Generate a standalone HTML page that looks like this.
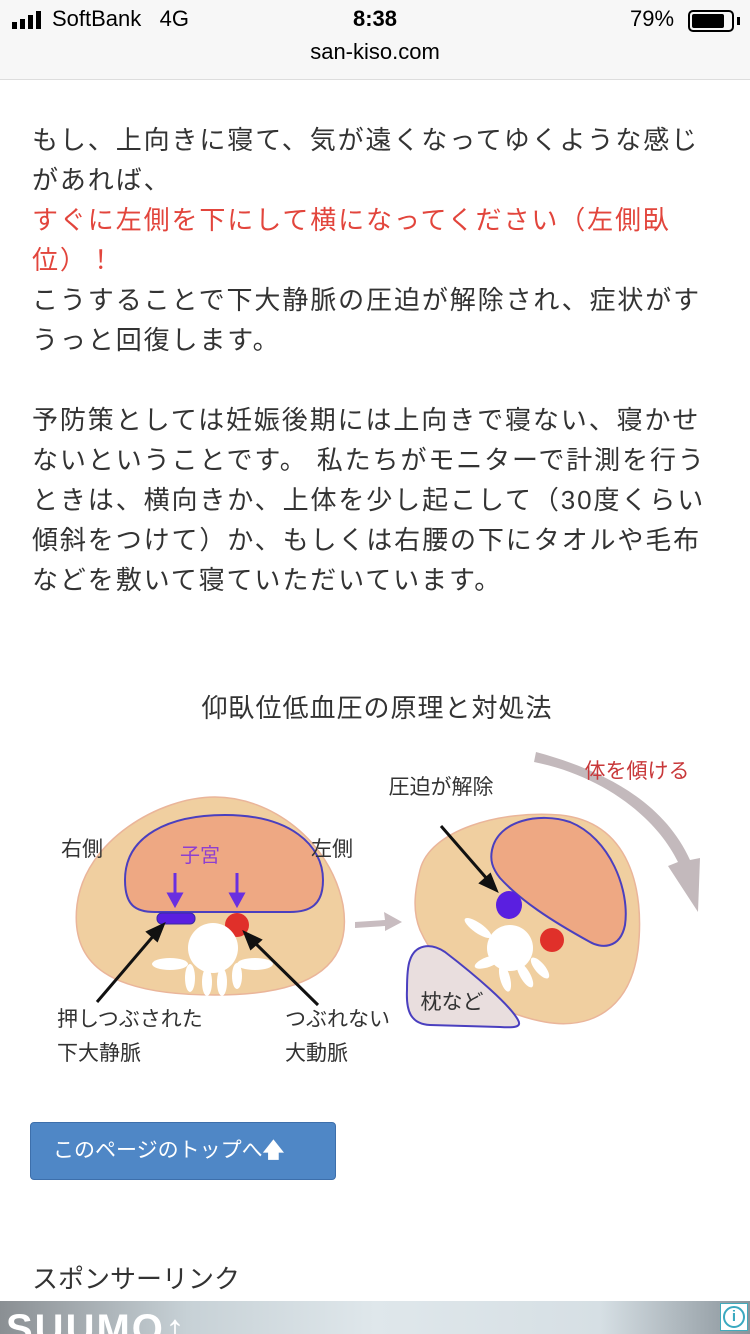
<!DOCTYPE html>
<html><head><meta charset="utf-8"><style>
*{margin:0;padding:0;box-sizing:border-box}
body{width:750px;height:1334px;overflow:hidden;background:#fff;position:relative;font-family:"Liberation Sans","Noto Sans CJK JP",sans-serif;color:#333}
.bar{position:absolute;left:0;top:0;width:750px;height:80px;background:#f7f7f7;border-bottom:1px solid #ddd}
.a{position:absolute;white-space:nowrap}
.t{position:absolute;left:32px;font-size:26px;letter-spacing:1.9px;white-space:nowrap;color:#333;line-height:40px}
.r{color:#e2453c}
</style></head><body>
<div class="bar">
 <div class="a" style="left:12px;top:11px;display:flex;gap:3px;align-items:flex-end;height:18px">
  <div style="width:5px;height:7px;background:#000"></div><div style="width:5px;height:10px;background:#000"></div><div style="width:5px;height:14px;background:#000"></div><div style="width:5px;height:18px;background:#000"></div>
 </div>
 <div class="a" style="left:52px;top:6px;font-size:22px;color:#000">SoftBank&nbsp;&nbsp;&nbsp;4G</div>
 <div class="a" style="left:0;width:750px;text-align:center;top:6px;font-size:22px;font-weight:bold;color:#000">8:38</div>
 <div class="a" style="left:630px;top:6px;font-size:22px;color:#000">79%</div>
 <div class="a" style="left:688px;top:10px;width:46px;height:22px;border:2px solid #000;border-radius:5px"><div style="margin:2px;width:32px;height:14px;background:#000;border-radius:2px"></div></div>
 <div class="a" style="left:737px;top:17px;width:3px;height:8px;background:#000"></div>
 <div class="a" style="left:0;width:750px;text-align:center;top:39px;font-size:22px;color:#000">san-kiso.com</div>
</div>

<div class="t" style="top:120px">もし、上向きに寝て、気が遠くなってゆくような感じ</div>
<div class="t" style="top:160px">があれば、</div>
<div class="t r" style="top:200px">すぐに左側を下にして横になってください（左側臥</div>
<div class="t r" style="top:240px">位）！</div>
<div class="t" style="top:280px">こうすることで下大静脈の圧迫が解除され、症状がす</div>
<div class="t" style="top:320px">うっと回復します。</div>
<div class="t" style="top:400px">予防策としては妊娠後期には上向きで寝ない、寝かせ</div>
<div class="t" style="top:440px">ないということです。 私たちがモニターで計測を行う</div>
<div class="t" style="top:480px">ときは、横向きか、上体を少し起こして（30度くらい</div>
<div class="t" style="top:520px">傾斜をつけて）か、もしくは右腰の下にタオルや毛布</div>
<div class="t" style="top:560px">などを敷いて寝ていただいています。</div>

<svg class="a" style="left:0;top:680px" width="750" height="400" viewBox="0 680 750 400" font-family="Liberation Sans, Noto Sans CJK JP, sans-serif">
 <text x="377" y="717" font-size="26" text-anchor="middle" fill="#333" letter-spacing="1">仰臥位低血圧の原理と対処法</text>
 <!-- left body -->
 <path d="M215 797 C270 797 330 840 343 905 C352 960 320 995 215 995 C110 995 70 965 77 905 C85 840 160 797 215 797Z" fill="#f0cfa0" stroke="#eab59a" stroke-width="1.5"/>
 <path d="M125 880 C125 835 170 815 225 815 C290 815 323 845 323 880 C323 905 310 912 290 912 L155 912 C135 912 125 905 125 880Z" fill="#eea883" stroke="#4a3fbf" stroke-width="2"/>
 <text x="200" y="862" font-size="20" fill="#8e3fd0" text-anchor="middle">子宮</text>
 <g stroke="#6a2fe0" stroke-width="3" fill="#6a2fe0">
  <line x1="175" y1="873" x2="175" y2="896"/><path d="M169 894 L181 894 L175 905Z"/>
  <line x1="237" y1="873" x2="237" y2="896"/><path d="M231 894 L243 894 L237 905Z"/>
 </g>
 <rect x="157" y="913" width="38" height="11" rx="5" fill="#5a1fe0" stroke="#3a2aa0"/>
 <ellipse cx="237" cy="925" rx="12" ry="12" fill="#e0302a"/>
 <g fill="#fff">
  <circle cx="213" cy="948" r="25"/>
  <ellipse cx="170" cy="964" rx="18" ry="6"/><ellipse cx="255" cy="964" rx="18" ry="6"/>
  <ellipse cx="190" cy="978" rx="5" ry="14"/><ellipse cx="207" cy="982" rx="5" ry="14"/><ellipse cx="222" cy="982" rx="5" ry="14"/><ellipse cx="237" cy="976" rx="5" ry="13"/>
 </g>
 <text x="82" y="856" font-size="21" fill="#333" text-anchor="middle">右側</text>
 <text x="332" y="856" font-size="21" fill="#333" text-anchor="middle">左側</text>
 <text x="57" y="1026" font-size="21" fill="#333">押しつぶされた</text>
 <text x="57" y="1060" font-size="21" fill="#333">下大静脈</text>
 <text x="285" y="1026" font-size="21" fill="#333">つぶれない</text>
 <text x="285" y="1060" font-size="21" fill="#333">大動脈</text>
 <!-- middle arrow -->
 <path d="M355 922 L385 920 L384 912 L402 922 L385 931 L385 926 L355 928Z" fill="#c8bcc0"/>
 <!-- right body -->
 <path d="M420 870 C430 830 500 810 560 815 C630 822 645 890 638 950 C630 1010 590 1030 545 1022 C490 1012 440 975 420 930 C412 910 415 890 420 870Z" fill="#f0cfa0" stroke="#eab59a" stroke-width="1.5"/>
 <path d="M492 850 C498 820 540 812 570 822 C610 838 630 890 625 925 C620 950 600 948 590 942 C550 920 520 900 500 878 C492 868 490 860 492 850Z" fill="#eea883" stroke="#4a3fbf" stroke-width="2"/>
 <ellipse cx="509" cy="905" rx="13" ry="14" fill="#5a1fe0"/>
 <circle cx="552" cy="940" r="12" fill="#e0302a"/>
 <g fill="#fff">
  <circle cx="510" cy="948" r="23"/>
  <ellipse cx="478" cy="928" rx="16" ry="5" transform="rotate(35 478 928)"/>
  <ellipse cx="488" cy="962" rx="14" ry="5" transform="rotate(-20 488 962)"/>
  <ellipse cx="505" cy="978" rx="5" ry="14" transform="rotate(-15 505 978)"/>
  <ellipse cx="525" cy="975" rx="5" ry="14" transform="rotate(-30 525 975)"/>
  <ellipse cx="540" cy="968" rx="5" ry="13" transform="rotate(-40 540 968)"/>
 </g>
 <path d="M410 960 C415 945 430 942 445 952 C475 975 510 1005 518 1020 C522 1027 515 1028 500 1027 L430 1025 C410 1024 406 1010 407 990 C407 975 408 965 410 960Z" fill="#e9dede" stroke="#4a3fbf" stroke-width="2"/>
 <text x="452" y="1009" font-size="21" fill="#333" text-anchor="middle">枕など</text>
 <text x="441" y="794" font-size="21" fill="#333" text-anchor="middle">圧迫が解除</text>
 <g stroke="#111" stroke-width="3" fill="#111">
  <line x1="97" y1="1002" x2="155" y2="934"/><path d="M163 925 L148 932 L157 940Z"/>
  <line x1="318" y1="1005" x2="253" y2="941"/><path d="M245 933 L251 948 L260 940Z"/>
  <line x1="441" y1="826" x2="488" y2="880"/><path d="M496 890 L481 883 L490 875Z"/>
 </g>
 <!-- curved arrow -->
 <path d="M534 762 C600 775 655 815 678 862 L668 866 L698 912 L700 858 L690 860 C665 805 610 772 536 752Z" fill="#c3b9bc"/>
 <text x="637" y="778" font-size="21" fill="#c8383a" text-anchor="middle">体を傾ける</text>
</svg>

<div class="a" style="left:30px;top:1122px;width:306px;height:58px;background:#4f87c6;border:1px solid #3d6fab;border-radius:4px;color:#fff;font-size:21px;line-height:56px;padding-left:22px">このページのトップへ<span style="font-weight:bold">🡅</span></div>
<div class="t" style="top:1259px;letter-spacing:0">スポンサーリンク</div>
<div class="a" style="left:0;top:1301px;width:750px;height:33px;background:linear-gradient(90deg,#8a8f93 0%,#c7d1d6 25%,#dfe7eb 50%,#d6dfe4 80%,#8a949b 100%);overflow:hidden">
 <div style="position:absolute;left:6px;top:6px;font-size:40px;font-weight:bold;color:#fff;letter-spacing:2px">SUUMO↑</div>
 <div style="position:absolute;right:2px;top:2px;width:28px;height:28px;background:#fff;border:1px solid #4ab;"><div style="margin:2px;width:22px;height:22px;border:2px solid #3aa9c0;border-radius:50%;color:#3aa9c0;font-size:15px;font-weight:bold;text-align:center;line-height:18px">i</div></div>
</div>
</body></html>
